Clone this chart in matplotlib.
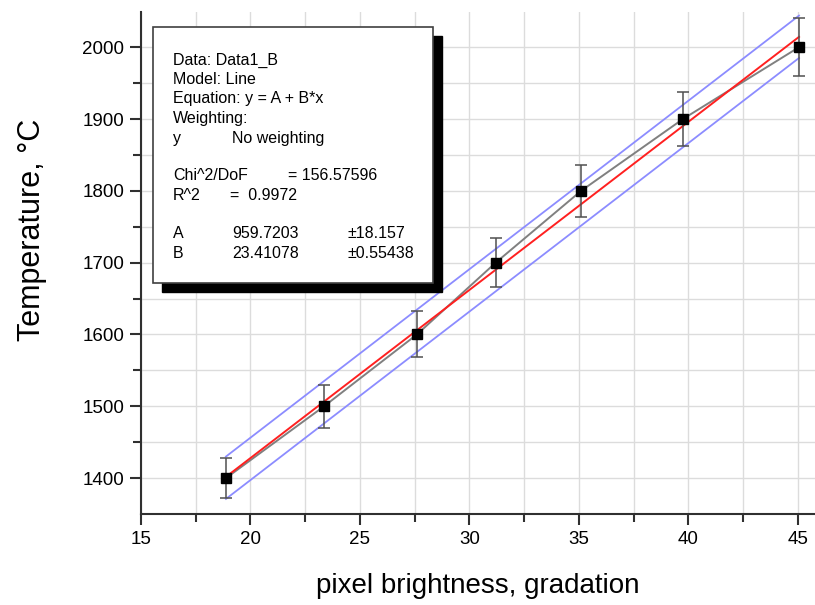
import matplotlib
matplotlib.use('Agg')
import matplotlib.pyplot as plt
from matplotlib.patches import Rectangle

# data
brightness = [18.88, 23.36, 27.6, 31.2, 35.1, 39.75, 45.05]
temperature = [1400, 1500, 1600, 1700, 1800, 1900, 2000]
temp_err = [28, 30, 32, 34, 36, 38, 40]

fit_a = 959.7203
fit_b = 23.41078
band_x = [18.88, 45.05]
band_upper = [1430, 2044]
band_lower = [1371, 1985]

info_lines = [
    ('Data: Data1_B', ''),
    ('Model: Line', ''),
    ('Equation: y = A + B*x', ''),
    ('Weighting:', ''),
    ('y', 'No weighting'),
]
W, H = 815, 605

plt.rcParams['font.family'] = ['Liberation Sans', 'DejaVu Sans']
fig = plt.figure(figsize=(W / 100, H / 100), dpi=100)
ax = fig.add_axes([141 / W, 91 / H, (W - 141) / W, 502 / H])


def px(x, y):
    # pixel position (from top-left) -> figure fraction
    return x / W, 1 - y / H


fit_y = [fit_a + fit_b * x for x in band_x]

ax.plot(brightness, temperature, color='#808080', lw=1.4, zorder=3)
ax.plot(band_x, fit_y, color='#ff2020', lw=1.4, zorder=4)
ax.plot(band_x, band_upper, color='#8c8cff', lw=1.3, zorder=4)
ax.plot(band_x, band_lower, color='#8c8cff', lw=1.3, zorder=4)
ax.errorbar(brightness, temperature, yerr=temp_err, fmt='none', ecolor='#505050',
            elinewidth=1.1, capsize=4, capthick=1.1, zorder=5)
ax.plot(brightness, temperature, 's', color='black', ms=7, zorder=6)

ax.set_xlim(15, 45.78)
ax.set_ylim(1350, 2049)
ax.set_xticks(range(15, 46, 5))
ax.set_xticks([17.5 + 5 * i for i in range(6)], minor=True)
ax.set_yticks(range(1400, 2001, 100))
ax.set_yticks(range(1450, 2050, 100), minor=True)
ax.grid(True, which='both', color='#dcdcdc', lw=1)
ax.set_axisbelow(True)

for s in ['top', 'right']:
    ax.spines[s].set_visible(False)
for s in ['left', 'bottom']:
    ax.spines[s].set_linewidth(1.5)
    ax.spines[s].set_color('#303030')
ax.tick_params(which='major', direction='out', length=8, width=1.5, labelsize=13.5,
               color='#303030', pad=4)
ax.tick_params(which='minor', direction='out', length=6, width=1.5, color='#303030')

ax.set_xlabel('pixel brightness, gradation', fontsize=20, labelpad=18)
ax.set_ylabel('Temperature, °C', fontsize=22)
ax.yaxis.set_label_coords(-0.14, 0.566)

# fit report box with shadow
x0, y0 = px(153, 283)
x1, y1 = px(433, 27)
fig.patches.append(Rectangle((x0 + 9 / W, y0 - 9 / H), x1 - x0, y1 - y0,
                             transform=fig.transFigure, facecolor='black',
                             edgecolor='black', zorder=10))
fig.patches.append(Rectangle((x0, y0), x1 - x0, y1 - y0, transform=fig.transFigure,
                             facecolor='white', edgecolor='#404040', lw=1.2, zorder=11))

tk = dict(fontsize=11.5, va='center', ha='left', zorder=12)
line_y = [60, 79, 99, 118, 138]
for (left, right), yy in zip(info_lines, line_y):
    fig.text(*px(173, yy), left, **tk)
    if right:
        fig.text(*px(232, yy), right, **tk)
fig.text(*px(173, 176), 'Chi^2/DoF', **tk)
fig.text(*px(288, 176), '= 156.57596', **tk)
fig.text(*px(173, 195), 'R^2', **tk)
fig.text(*px(230, 195), '=  0.9972', **tk)
fig.text(*px(173, 233), 'A', **tk)
fig.text(*px(232, 233), '%.4f' % fit_a, **tk)
fig.text(*px(347, 233), '±18.157', **tk)
fig.text(*px(173, 253), 'B', **tk)
fig.text(*px(232, 253), '%.5f' % fit_b, **tk)
fig.text(*px(347, 253), '±0.55438', **tk)

fig.savefig('out.png', dpi=100)
